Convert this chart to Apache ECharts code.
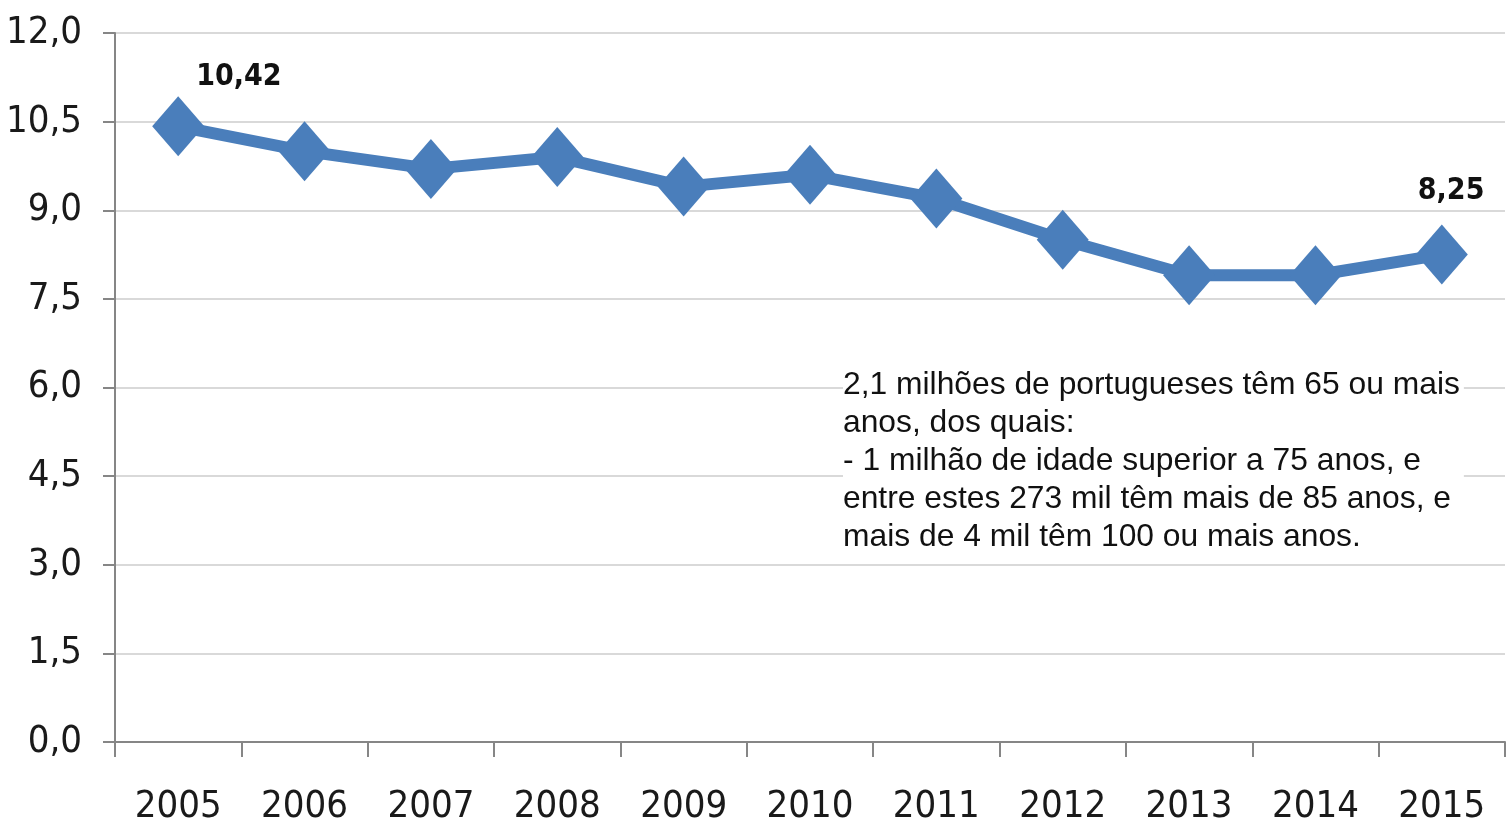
<!DOCTYPE html>
<html>
<head>
<meta charset="utf-8">
<script src="https://cdn.jsdelivr.net/npm/echarts@6/dist/echarts.min.js"></script>
<style>
html,body{margin:0;padding:0;background:#fff;}
#chart{width:1507px;height:830px;}
</style>
</head>
<body>
<div id="chart"></div>
<script>
const years = ['2005','2006','2007','2008','2009','2010','2011','2012','2013','2014','2015'];
const values = [10.42, 10.0, 9.7, 9.9, 9.4, 9.6, 9.2, 8.5, 7.9, 7.9, 8.25];
const labelledIndices = [0, 10];
const yTicks = { min: 0, max: 12, interval: 1.5 };
const noteLines = [
  '2,1 milhões de portugueses têm 65 ou mais',
  'anos, dos quais:',
  '- 1 milhão de idade superior a 75 anos, e',
  'entre estes 273 mil têm mais de 85 anos, e',
  'mais de 4 mil têm 100 ou mais anos.'
];

const narrow = '"DejaVu Sans Condensed", "Liberation Sans Narrow", sans-serif';

const seriesData = values.map((v, i) => {
  const d = { value: v };
  if (labelledIndices.includes(i)) {
    d.label = {
      show: true,
      position: i === 0 ? [44, -34] : [2, -48],
      formatter: (p) => p.value.toFixed(2).replace('.', ','),
      fontFamily: narrow,
      fontWeight: 'bold',
      fontSize: 30,
      color: '#111'
    };
  }
  return d;
});

const chart = echarts.init(document.getElementById('chart'));
chart.setOption({
  animation: false,
  backgroundColor: '#fff',
  grid: { left: 115, right: 2, top: 33, bottom: 88, containLabel: false },
  xAxis: {
    type: 'category',
    data: years,
    boundaryGap: true,
    axisLine: { lineStyle: { color: '#868686', width: 2 } },
    axisTick: { show: true, length: 15, lineStyle: { color: '#868686', width: 2 } },
    axisLabel: { interval: 0, fontFamily: narrow, fontSize: 38, color: '#1a1a1a', margin: 46 },
    splitLine: { show: false }
  },
  yAxis: {
    type: 'value',
    min: yTicks.min, max: yTicks.max, interval: yTicks.interval,
    axisLine: { show: true, lineStyle: { color: '#868686', width: 2 } },
    axisTick: { show: true, inside: false, length: 12, lineStyle: { color: '#868686', width: 2 } },
    axisLabel: {
      fontFamily: narrow, fontSize: 38, color: '#1a1a1a', margin: 33,
      formatter: (v) => v.toFixed(1).replace('.', ',')
    },
    splitLine: { show: true, lineStyle: { color: '#d9d9d9', width: 2 } }
  },
  series: [{
    type: 'line',
    data: seriesData,
    symbol: 'diamond',
    symbolSize: [52, 60],
    lineStyle: { color: '#4a7ebb', width: 12 },
    itemStyle: { color: '#4a7ebb' },
    label: { show: false }
  }],
  graphic: [{
    type: 'text',
    left: 843,
    top: 366,
    z: 100,
    style: {
      text: noteLines.join('\n'),
      fontFamily: '"Liberation Sans", Arial, sans-serif',
      fontSize: 31.8,
      lineHeight: 38,
      fill: '#111',
      backgroundColor: '#fff',
      padding: [0, 4, 0, 0]
    }
  }]
});
</script>
</body>
</html>
